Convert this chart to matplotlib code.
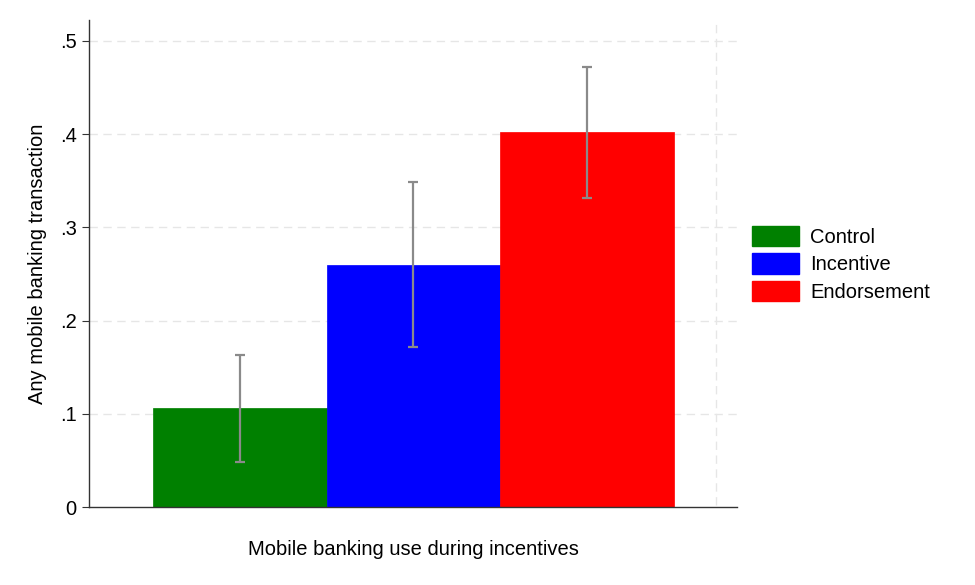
import matplotlib
matplotlib.use("Agg")
import matplotlib.pyplot as plt
from matplotlib.patches import Patch

categories = ["Control", "Incentive", "Endorsement"]
means = [0.106, 0.260, 0.402]
ci_low = [0.048, 0.172, 0.332]
ci_high = [0.163, 0.349, 0.472]
colors = ["#008000", "#0000ff", "#ff0000"]
yticks = [0, 0.1, 0.2, 0.3, 0.4, 0.5]
yticklabels = ["0", ".1", ".2", ".3", ".4", ".5"]

plt.rcParams['font.family'] = ['Liberation Sans', 'DejaVu Sans']
FS = 14.5

fig = plt.figure(figsize=(9.75, 5.85), dpi=100)
ax = fig.add_axes([0.0913, 0.1333, 0.6646, 0.8325])

xs = [1, 2, 3]
for x, m, lo, hi, c in zip(xs, means, ci_low, ci_high, colors):
    ax.bar(x, m, width=1.0, color=c, edgecolor=c, linewidth=0.5, zorder=2)
    ax.errorbar(x, m, yerr=[[m - lo], [hi - m]], fmt='none', ecolor='#8a8a8a',
                elinewidth=1.6, capsize=3.5, capthick=1.6, zorder=3)

ax.set_xlim(0.131, 3.866)
ax.set_ylim(0, 0.5225)
ax.set_yticks(yticks)
ax.set_yticklabels(yticklabels, fontsize=FS)
ax.set_xticks([])
for y in yticks[1:]:
    ax.axhline(y, color='#e6e6e6', lw=1.0, ls=(0, (6, 4)), zorder=1)
ax.axvline(3.745, ymin=0.005, ymax=0.995, color='#e6e6e6', lw=1.0, ls=(0, (6, 4)), zorder=1)

for s in ['top', 'right']:
    ax.spines[s].set_visible(False)
for s in ['left', 'bottom']:
    ax.spines[s].set_color('#333333')
    ax.spines[s].set_linewidth(1.0)
ax.tick_params(axis='y', length=5, color='#333333', pad=4)

ax.set_ylabel("Any mobile banking transaction", fontsize=FS, labelpad=9)
ax.set_xlabel("Mobile banking use during incentives", fontsize=FS, labelpad=24)

handles = [Patch(facecolor=c, edgecolor=c, label=l) for c, l in zip(colors, categories)]
fig.legend(handles=handles, loc='center left', bbox_to_anchor=(0.7628, 0.549),
           frameon=False, fontsize=FS, handlelength=2.35, handleheight=1.2,
           labelspacing=0.32, handletextpad=0.55, borderaxespad=0)

fig.savefig("out.png", dpi=100, facecolor='white')
